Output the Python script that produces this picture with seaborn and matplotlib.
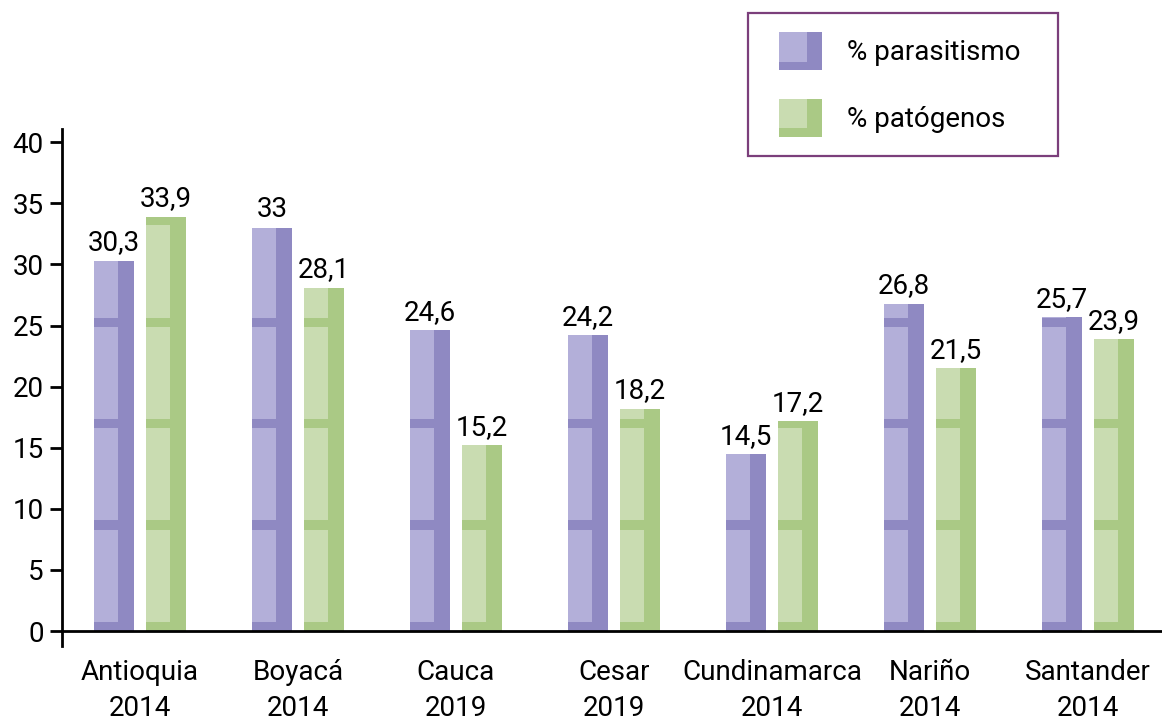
import matplotlib
matplotlib.use("Agg")
import matplotlib.pyplot as plt
import seaborn as sns
import pandas as pd
import numpy as np
from matplotlib.patches import Rectangle, Patch
from matplotlib.legend_handler import HandlerBase

categories = ["Antioquia\n2014", "Boyacá\n2014", "Cauca\n2019", "Cesar\n2019",
              "Cundinamarca\n2014", "Nariño\n2014", "Santander\n2014"]
parasitismo = [30.3, 33.0, 24.6, 24.2, 14.5, 26.8, 25.7]
patogenos = [33.9, 28.1, 15.2, 18.2, 17.2, 21.5, 23.9]
value_labels_par = ["30,3", "33", "24,6", "24,2", "14,5", "26,8", "25,7"]
value_labels_pat = ["33,9", "28,1", "15,2", "18,2", "17,2", "21,5", "23,9"]
series = ["% parasitismo", "% patógenos"]
yticks = [0, 5, 10, 15, 20, 25, 30, 35, 40]

dark = {"% parasitismo": "#8F89C2", "% patógenos": "#AAC985"}
light = {"% parasitismo": "#B3AFD9", "% patógenos": "#C9DCB1"}

df = pd.DataFrame({
    "cat": categories * 2,
    "serie": [series[0]] * len(categories) + [series[1]] * len(categories),
    "val": parasitismo + patogenos,
})

sns.set_theme(style="white")
plt.rcParams["font.family"] = ["Roboto", "DejaVu Sans"]
plt.rcParams["text.color"] = "black"
plt.rcParams["xtick.color"] = "black"
plt.rcParams["ytick.color"] = "black"
plt.rcParams["xtick.labelcolor"] = "black"
plt.rcParams["ytick.labelcolor"] = "black"

fig = plt.figure(figsize=(11.62, 7.27), dpi=100)
ax = fig.add_axes([0.0534, 0.1118, 0.9466, 0.7111])

sns.barplot(data=df, x="cat", y="val", hue="serie", order=categories,
            hue_order=series, palette=[dark[s] for s in series],
            width=0.66, gap=0.23, ax=ax, legend=False, linewidth=0,
            saturation=1)

# bamboo-like decoration: light left part of each segment between darker nodes
P = 8.3
band = 0.75
labels_all = [value_labels_par, value_labels_pat]
for si, s in enumerate(series):
    cont = ax.containers[si]
    for bi, rect in enumerate(cont.patches):
        x0 = rect.get_x()
        w = rect.get_width()
        h = rect.get_height()
        k = 0
        while k * P + band < h:
            y0 = k * P + band
            y1 = min((k + 1) * P, h)
            if y1 > y0:
                ax.add_patch(Rectangle((x0, y0), w * 0.6, y1 - y0,
                                       facecolor=light[s], edgecolor="none",
                                       zorder=rect.get_zorder() + 0.1))
            k += 1
        ax.text(x0 + w / 2, h + 0.35, labels_all[si][bi], ha="center",
                va="bottom", fontsize=20, color="black")

ax.set_xlim(-0.494, 6.47)
ax.set_ylim(-1.2, 41.1)
ax.set_yticks(yticks)
ax.set_yticklabels([str(t) for t in yticks])
ax.set_xticks(range(len(categories)))
ax.set_xticklabels(categories, linespacing=1.45)
ax.set_xlabel("")
ax.set_ylabel("")
ax.tick_params(axis="x", length=0, pad=20, labelsize=20, labelcolor="black")
ax.tick_params(axis="y", length=9, width=2, direction="out", pad=4,
               labelsize=20, labelcolor="black", color="black", left=True)
ax.spines["top"].set_visible(False)
ax.spines["right"].set_visible(False)
ax.spines["left"].set_linewidth(2)
ax.spines["left"].set_color("black")
ax.spines["bottom"].set_linewidth(2)
ax.spines["bottom"].set_color("black")
ax.spines["bottom"].set_position(("data", 0))
ax.grid(False)


class TwoTone(HandlerBase):
    def __init__(self, lc, dc, off=0.22):
        super().__init__()
        self.lc = lc
        self.dc = dc
        self.off = off

    def create_artists(self, legend, orig_handle, xdescent, ydescent,
                       width, height, fontsize, trans):
        x = -xdescent + self.off * width
        ww = width * (1 - self.off)
        r1 = Rectangle((x, -ydescent), ww, height,
                       facecolor=self.dc, edgecolor="none", transform=trans)
        r2 = Rectangle((x, -ydescent + 0.22 * height), 0.64 * ww,
                       0.78 * height, facecolor=self.lc, edgecolor="none",
                       transform=trans)
        return [r1, r2]


handles = [Patch(facecolor=dark[s]) for s in series]
hmap = {h: TwoTone(light[s], dark[s]) for h, s in zip(handles, series)}
leg = fig.legend(handles, series, handler_map=hmap, loc="upper left",
                 bbox_to_anchor=(748 / 1162, 1 - 158 / 727, 310 / 1162, 145 / 727),
                 mode="expand",
                 bbox_transform=fig.transFigure, borderaxespad=0,
                 fontsize=20, frameon=True, fancybox=False,
                 borderpad=0.7, labelspacing=1.02, handlelength=1.96,
                 handleheight=1.73, handletextpad=0.9)
leg.get_frame().set_edgecolor("#7B3F7B")
leg.get_frame().set_linewidth(1.6)
leg.get_frame().set_facecolor("white")
leg.get_frame().set_alpha(1)

fig.canvas.draw()
for lab in ax.get_xticklabels():
    lab.set_linespacing(1.45)

fig.savefig("out.png", dpi=100)
